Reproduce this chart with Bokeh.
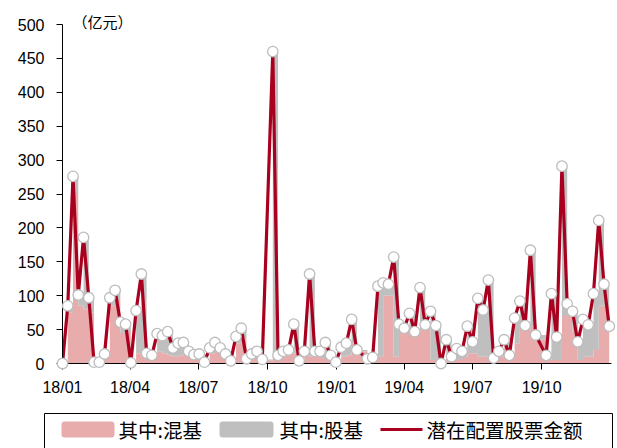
import pandas as pd
from bokeh.plotting import figure
from bokeh.models import ColumnDataSource, Range1d, FixedTicker, DatetimeTickFormatter
from bokeh.core.properties import value
from bokeh.embed import file_html
from bokeh.resources import INLINE

# ---- data (weekly, holiday weeks not reported) ----
all_weeks = pd.date_range("2018-01-01", "2019-12-30", freq="7D")
holiday_weeks = pd.to_datetime(["2018-10-01", "2019-02-04", "2019-09-30"])
dates = all_weeks[~all_weeks.isin(holiday_weeks)]

# 其中:混基 (亿元)
hunji = [0, 75, 250, 85, 80, 75, 2, 2, 10, 85, 95, 45, 48, 1, 15, 10, 8, 8, 18, 15,
         12, 10, 12, 15, 10, 8, 8, 2, 15, 20, 15, 8, 3, 30, 35, 5, 8, 10, 4,
         8, 10, 12, 15, 15, 3, 12, 10, 12, 8, 10, 8, 2, 10, 12, 30, 18,
         5, 6, 10, 100, 100, 10, 50, 48, 50, 45, 50, 50, 5, 5, 0, 10, 5, 5, 8, 15,
         15, 10, 10, 10, 5, 10, 25, 10, 30, 55, 50, 55, 35,
         8, 5, 5, 70, 75, 45, 5, 10, 10, 20, 85, 85, 50]
# 其中:股基 (亿元)
guji = [0, 10, 26, 16, 106, 22, 0, 0, 4, 12, 13, 16, 10, 0, 63, 122, 7, 4, 26, 26,
        35, 13, 18, 16, 8, 5, 6, 0, 8, 11, 8, 6, 1, 10, 17, 2, 6, 8, 2,
        452, 2, 6, 5, 43, 1, 6, 122, 6, 10, 21, 4, 0, 14, 18, 35, 2,
        2, 3, 104, 19, 17, 147, 8, 4, 24, 2, 62, 7, 72, 51, 0, 25, 5, 17, 10, 40,
        17, 86, 69, 113, 3, 8, 10, 2, 37, 37, 6, 112, 7,
        4, 98, 34, 221, 13, 32, 27, 55, 47, 83, 126, 32, 5]
# 潜在配置股票金额 = 混基 + 股基
total = [h + g for h, g in zip(hunji, guji)]

tick_dates = ["2018-01-01", "2018-04-01", "2018-07-01", "2018-10-01",
              "2019-01-01", "2019-04-01", "2019-07-01", "2019-10-01"]
y_ticks = [0, 50, 100, 150, 200, 250, 300, 350, 400, 450, 500]
unit_text = "（亿元）"
series_names = ["其中:混基", "其中:股基", "潜在配置股票金额"]

PINK = "#E8ACAC"
GRAY = "#BFBFBF"
RED = "#A8001E"
MARK_EDGE = "#BDBDBD"

# ---- layout (pixels) ----
W, H = 617, 448
FL, FR, FT, FB = 62, 611, 24, 363          # plot frame edges
X0, X1 = "2018-01-01", "2020-01-02"        # x range
Y0, Y1 = 0, 500                            # y range


def ms(s):
    return pd.Timestamp(s).value // 10**6


def px_x(px):   # screen x -> data x (for decorations outside the frame)
    return ms(X0) + (px - FL) / (FR - FL) * (ms(X1) - ms(X0))


def px_y(py):   # screen y -> data y
    return Y0 + (FB - py) / (FB - FT) * (Y1 - Y0)


src = ColumnDataSource(dict(date=dates, hunji=hunji, top=total, zero=[0] * len(hunji)))

p = figure(width=W, height=H, x_axis_type="datetime", output_backend="svg",
           toolbar_location=None, title=None,
           x_range=Range1d(ms(X0), ms(X1)), y_range=Range1d(Y0, Y1),
           min_border_left=FL, min_border_right=W - FR, min_border_top=FT,
           min_border_bottom=H - FB)
p.outline_line_color = None
p.grid.visible = False

p.varea_step(x="date", y1="zero", y2="hunji", step_mode="after", fill_color=PINK, source=src)
p.varea_step(x="date", y1="hunji", y2="top", step_mode="after", fill_color=GRAY, source=src)
p.line("date", "top", line_color=RED, line_width=3.2, source=src)
r_mark = p.scatter("date", "top", size=10.5, fill_color="white", line_color=MARK_EDGE,
                   line_width=1.3, source=src)
r_mark.level = "overlay"

for ax in (p.xaxis[0], p.yaxis[0]):
    ax.axis_line_color = "black"
    ax.axis_line_width = 1
    ax.major_tick_line_color = "black"
    ax.major_tick_in = 0
    ax.major_tick_out = 6
    ax.minor_tick_line_color = None
    ax.major_label_text_font = "Liberation Sans"
    ax.major_label_text_font_size = "16px"
    ax.major_label_text_color = "black"

p.yaxis[0].ticker = FixedTicker(ticks=y_ticks)
p.yaxis[0].major_label_standoff = 12
p.xaxis[0].ticker = FixedTicker(ticks=[ms(d) for d in tick_dates])
fmt = "%y/%m"
p.xaxis[0].formatter = DatetimeTickFormatter(
    microseconds=fmt, milliseconds=fmt, seconds=fmt, minsec=fmt, minutes=fmt,
    hourmin=fmt, hours=fmt, days=fmt, months=fmt, years=fmt)
p.xaxis[0].major_label_standoff = 9

# unit text above the plot frame (overlay level so it is not clipped)
p.text(x=[px_x(72)], y=[px_y(21)], text=[unit_text], text_font=value("Noto Sans CJK SC"),
       text_font_size="15px", text_color="black", text_baseline="middle",
       text_align="left", level="overlay")

# ---- legend (drawn below the axis, outside the frame) ----
LEG_FONT = dict(text_font=value("Noto Sans CJK SC"), text_font_size="19.5px",
                text_color="black", text_baseline="middle", text_align="left",
                level="overlay")
row_y = 429
p.quad(left=[px_x(44)], right=[px_x(612)], top=[px_y(413)], bottom=[px_y(470)],
       fill_color="white", line_color="black", line_width=1, level="overlay")
p.quad(left=[px_x(61), px_x(219)], right=[px_x(114), px_x(273)],
       top=[px_y(row_y - 8)] * 2, bottom=[px_y(row_y + 8)] * 2,
       fill_color=[PINK, GRAY], line_color=None, border_radius=3, level="overlay")
p.line(x=[px_x(380), px_x(422)], y=[px_y(row_y)] * 2, line_color=RED, line_width=3.2,
       level="overlay")
p.scatter(x=[px_x(401)], y=[px_y(row_y)], size=10, fill_color="white",
          line_color=MARK_EDGE, line_width=1.3, level="overlay")
p.text(x=[px_x(118), px_x(279), px_x(426)], y=[px_y(row_y)] * 3, text=series_names,
       **LEG_FONT)

open("out.html", "w").write(file_html(p, INLINE))
